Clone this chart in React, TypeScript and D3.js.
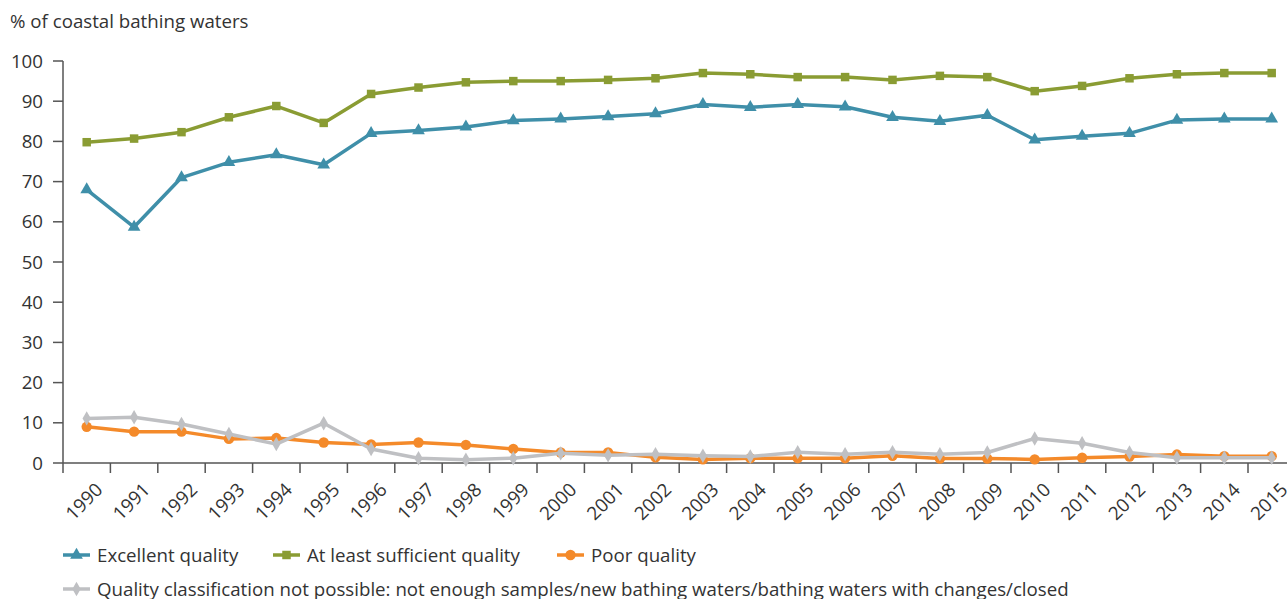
import * as d3 from 'd3';

const years = [
  '1990', '1991', '1992', '1993', '1994', '1995', '1996', '1997', '1998', '1999', '2000', '2001', '2002',
  '2003', '2004', '2005', '2006', '2007', '2008', '2009', '2010', '2011', '2012', '2013', '2014', '2015',
];

const excellent = [
  68, 58.7, 71, 74.8, 76.7, 74.2, 82, 82.7, 83.6, 85.2, 85.6, 86.2, 86.9,
  89.2, 88.5, 89.2, 88.6, 86, 85, 86.5, 80.4, 81.3, 82, 85.3, 85.6, 85.6,
];
const sufficient = [
  79.8, 80.7, 82.3, 86, 88.8, 84.6, 91.8, 93.4, 94.7, 95, 95, 95.3, 95.7,
  97, 96.7, 96, 96, 95.3, 96.3, 96, 92.5, 93.8, 95.7, 96.7, 97, 97,
];
const poor = [
  9, 7.8, 7.8, 6, 6.2, 5.1, 4.6, 5.1, 4.5, 3.5, 2.6, 2.6, 1.4,
  0.9, 1.2, 1.2, 1.2, 1.8, 1.1, 1.1, 0.9, 1.3, 1.6, 2.1, 1.7, 1.7,
];
const notPossible = [
  11.1, 11.4, 9.7, 7.2, 4.7, 9.9, 3.5, 1.2, 0.8, 1.2, 2.4, 1.9, 2.2,
  1.8, 1.6, 2.7, 2.2, 2.7, 2.2, 2.6, 6.1, 4.9, 2.6, 1.3, 1.3, 1.3,
];

const yTicks = [0, 10, 20, 30, 40, 50, 60, 70, 80, 90, 100];

type Marker = 'triangle' | 'square' | 'circle' | 'diamond';

const series: { name: string; values: number[]; color: string; marker: Marker }[] = [
  { name: 'Excellent quality', values: excellent, color: '#3f8fa9', marker: 'triangle' },
  { name: 'At least sufficient quality', values: sufficient, color: '#8a9c33', marker: 'square' },
  { name: 'Poor quality', values: poor, color: '#f48a2a', marker: 'circle' },
  {
    name: 'Quality classification not possible: not enough samples/new bathing waters/bathing waters with changes/closed',
    values: notPossible,
    color: '#bfc0c3',
    marker: 'diamond',
  },
];

const W = 1287;
const H = 599;
const left = 63;
const top = 61;
const bottom = 463;
const font = '"Open Sans", "Noto Sans", sans-serif';
const textColor = '#333';
const fs = 18.7;

const symbolFor: Record<Marker, { type: d3.SymbolType; size: number }> = {
  triangle: { type: d3.symbolTriangle, size: 70 },
  square: { type: d3.symbolSquare, size: 72 },
  circle: { type: d3.symbolCircle, size: 85 },
  diamond: { type: d3.symbolDiamond, size: 60 },
};

function MarkerShape({ marker, color, x, y }: { marker: Marker; color: string; x: number; y: number }) {
  const s = symbolFor[marker];
  const d = d3.symbol().type(s.type).size(s.size)() || '';
  return <path d={d} transform={`translate(${x},${y})`} fill={color} />;
}

export default function App() {
  const x = d3.scaleBand<string>().domain(years).range([left, left + years.length * 47.4]).padding(0);
  const y = d3.scaleLinear().domain([0, 100]).range([bottom, top]);
  const cx = (yr: string) => (x(yr) || 0) + x.bandwidth() / 2;

  const line = d3
    .line<number>()
    .x((_, i) => cx(years[i]))
    .y((v) => y(v));

  const legendRow1 = [
    { s: series[0], lx: 63 },
    { s: series[1], lx: 273 },
    { s: series[2], lx: 557 },
  ];

  return (
    <>
      <style>{'body{margin:0}'}</style>
      <svg width={W} height={H} style={{ display: 'block', fontFamily: font }}>
        <rect width={W} height={H} fill="#fff" />
        <text x={10} y={28} fontSize={fs} fill={textColor}>
          % of coastal bathing waters
        </text>

        {/* y axis */}
        <line x1={left} x2={left} y1={top} y2={bottom} stroke="#555" strokeWidth={1.5} />
        {yTicks.map((t) => (
          <g key={t}>
            <line x1={left - 10} x2={left} y1={y(t)} y2={y(t)} stroke="#555" strokeWidth={1.5} />
            <text x={43} y={y(t)} dy="0.35em" textAnchor="end" fontSize={fs} fill={textColor}>
              {t}
            </text>
          </g>
        ))}

        {/* x axis */}
        <line x1={left} x2={W} y1={bottom} y2={bottom} stroke="#555" strokeWidth={1.5} />
        {years.map((yr) => (
          <g key={yr}>
            <line x1={x(yr)} x2={x(yr)} y1={bottom} y2={bottom + 10} stroke="#555" strokeWidth={1.5} />
            <text
              transform={`translate(${cx(yr) + 17},${bottom + 28}) rotate(-45)`}
              textAnchor="end"
              fontSize={fs}
              fill={textColor}
            >
              {yr}
            </text>
          </g>
        ))}

        {/* series */}
        {series.map((s) => (
          <g key={s.name}>
            <path d={line(s.values) || ''} fill="none" stroke={s.color} strokeWidth={3.5} strokeLinejoin="round" />
            {s.values.map((v, i) => (
              <MarkerShape key={i} marker={s.marker} color={s.color} x={cx(years[i])} y={y(v)} />
            ))}
          </g>
        ))}

        {/* legend */}
        {legendRow1.map(({ s, lx }) => (
          <g key={s.name}>
            <line x1={lx} x2={lx + 27} y1={555} y2={555} stroke={s.color} strokeWidth={3.5} />
            <MarkerShape marker={s.marker} color={s.color} x={lx + 13.5} y={555} />
            <text x={lx + 34} y={555} dy="0.35em" fontSize={fs} fill={textColor}>
              {s.name}
            </text>
          </g>
        ))}
        <g>
          <line x1={63} x2={90} y1={589} y2={589} stroke={series[3].color} strokeWidth={3.5} />
          <MarkerShape marker={series[3].marker} color={series[3].color} x={76.5} y={589} />
          <text x={97} y={589} dy="0.35em" fontSize={fs} fill={textColor}>
            {series[3].name}
          </text>
        </g>
      </svg>
    </>
  );
}
